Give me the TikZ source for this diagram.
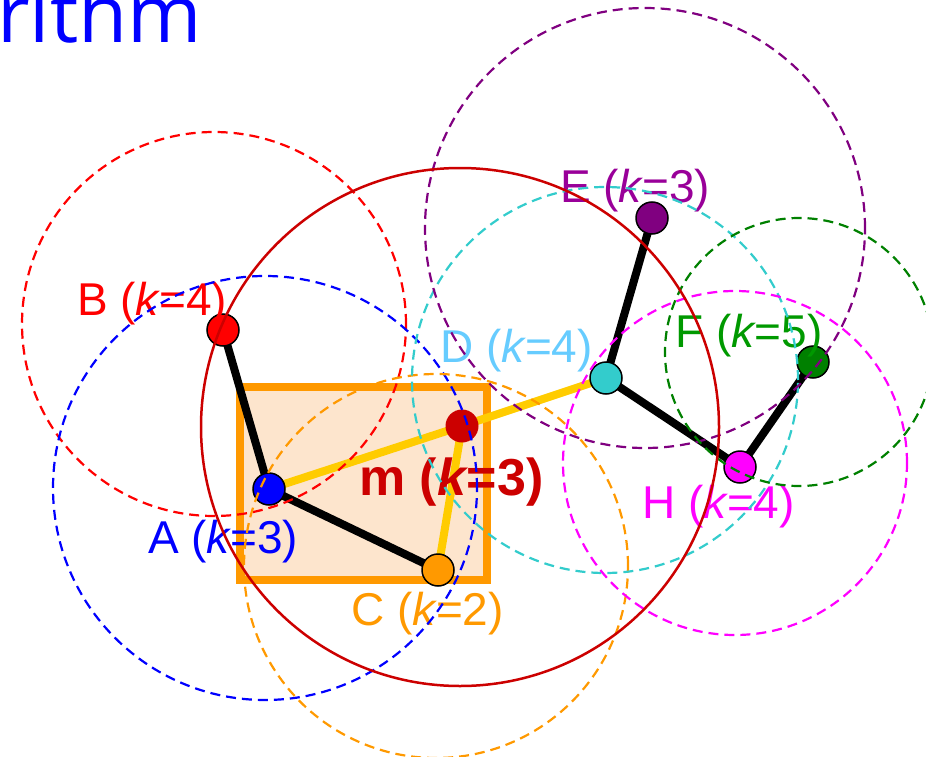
\documentclass[tikz,border=0pt]{standalone}
\usepackage{fontspec}
\setmainfont{Liberation Sans}
\newfontfamily\titlefont{Open Sans}
\usepackage{xcolor}
\usepackage{tikz}
\usetikzlibrary{backgrounds}

\definecolor{mred}{HTML}{CC0000}
\definecolor{korange}{HTML}{FF9900}
\definecolor{kcyan}{HTML}{33CCCC}
\definecolor{dlight}{HTML}{66CCFF}
\definecolor{kpurple}{HTML}{800080}
\definecolor{epurple}{HTML}{990099}
\definecolor{kgreen}{HTML}{008000}
\definecolor{fgreen}{HTML}{009900}
\definecolor{kmag}{HTML}{FF00FF}
\definecolor{kgold}{HTML}{FFCC00}
\definecolor{peach}{HTML}{FDE5CD}

\newcommand{\kval}[1]{(\textit{k}\kern-0.03em=#1)}

\begin{document}
\begin{tikzpicture}[x=1pt, y=-1pt,
    pt/.style={circle, draw=black, line width=1.5pt, minimum size=32pt, inner sep=0pt},
    lbl/.style={font=\fontsize{46}{50}\selectfont, inner sep=0pt, anchor=base west},
    nn/.style={line width=8pt, black},
    mid/.style={line width=8pt, kgold},
    reach/.style={line width=2.2pt, dash pattern=on 10pt off 6pt}
]
    \useasboundingbox (0,0) rectangle (926,757);

    % title fragment
    \node[font=\titlefont\fontsize{80}{90}\selectfont, text=blue, inner sep=0pt, anchor=base east] (title) at (202,43) {rithm};
    \node[lbl, text=black] (colon) at (-8.5,444) {:};

    % points
    \node[pt, fill=red] (B) at (223,330) {};
    \node[pt, fill=blue] (A) at (269,489) {};
    \node[pt, fill=korange] (C) at (438,570) {};
    \node[circle, fill=mred, minimum size=33pt, inner sep=0pt] (m) at (462,426) {};
    \node[pt, fill=kcyan] (D) at (606,378) {};
    \node[pt, fill=kpurple] (E) at (652,218) {};
    \node[pt, fill=kgreen] (F) at (813,362) {};
    \node[pt, fill=kmag] (H) at (740,467) {};

    % box and neighbour links
    \begin{scope}[on background layer]
        \draw[korange, fill=peach, line width=8pt] (240,387) rectangle (487,580);
        \draw[nn] (B.center) -- (A.center) -- (C.center);
        \draw[nn] (E.center) -- (D.center) -- (H.center) -- (F.center);
        \draw[mid] (A.center) -- (m.center) -- (C.center);
        \draw[mid] (m.center) -- (D.center);
    \end{scope}

    % labels
    \node[lbl, text=red] (labB) at (77,315) {B \kval{4}};
    \node[lbl, text=blue] (labA) at (148,553) {A \kval{3}};
    \node[lbl, text=korange] (labC) at (351,625) {C \kval{2}};
    \node[lbl, text=mred, font=\fontsize{52}{56}\selectfont\bfseries] (labm) at (359,495) {m \kval{3}};
    \node[lbl, text=dlight] (labD) at (440,362) {D \kval{4}};
    \node[lbl, text=epurple] (labE) at (560,202) {E \kval{3}};
    \node[lbl, text=fgreen] (labF) at (675,347) {F \kval{5}};
    \node[lbl, text=kmag] (labH) at (642,518) {H \kval{4}};

    % k-distance circles
    \draw[reach, red] (214,324) circle[radius=192pt];
    \draw[reach, blue] (265,488) circle[radius=212pt];
    \draw[reach, korange] (436,566) circle[radius=192pt];
    \draw[reach, kcyan] (605,380) circle[radius=193pt];
    \draw[reach, kpurple] (645,228) circle[radius=220pt];
    \draw[reach, kgreen] (799,352) circle[radius=134pt];
    \draw[reach, kmag] (735,463) circle[radius=172pt];
    \draw[mred, line width=2.5pt] (460,427) circle[radius=259pt];
\end{tikzpicture}
\end{document}
